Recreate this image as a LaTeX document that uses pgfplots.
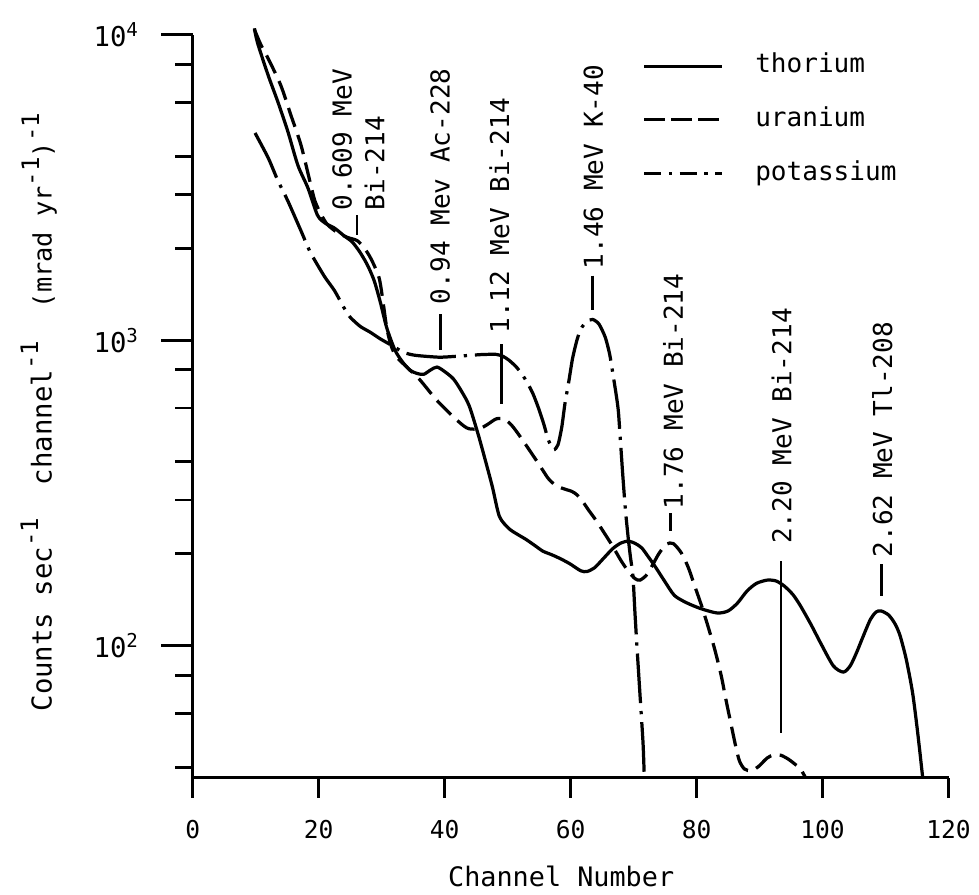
\documentclass[border=0pt]{standalone}
\usepackage{fontspec}
\setmainfont{DejaVu Sans Mono}
\usepackage{pgfplots}
\pgfplotsset{compat=1.18}
\newcommand{\annfont}{\fontsize{10.5}{13.2}\selectfont}
\newcommand{\sups}[1]{\raisebox{0.9ex}{\fontsize{9.7}{10}\selectfont #1}}
\begin{document}
\begin{tikzpicture}
\path (-77.6pt,-45.6pt) rectangle (314pt,313.2pt);
\begin{axis}[
  at={(0pt,0pt)}, anchor=south west,
  scale only axis, width=304.4pt, height=299.2pt,
  xmin=0, xmax=120, ymode=log, ymin=37, ymax=10000,
  axis x line=bottom, axis y line=left,
  axis line style={-, line width=1.2pt},
  clip=false,
  xtick={0,20,...,120},
  ytick={100,1000,10000},
  yticklabels={10\textsuperscript{2},10\textsuperscript{3},10\textsuperscript{4}},
  minor ytick={40,60,80,200,300,400,600,800,2000,3000,4000,6000,8000},
  tick align=outside,
  tick style={black, line width=1.1pt},
  major tick length=8pt,
  minor tick length=7pt,
  /pgf/number format/assume math mode=true,
  xticklabel style={font=\fontsize{9.9}{12}\selectfont, yshift=-5.7pt},
  yticklabel style={font=\fontsize{11}{12}\selectfont, anchor=east, xshift=-10pt},
  xlabel={Channel Number},
  xlabel style={font=\fontsize{10.8}{12}\selectfont, at={(axis description cs:0.4875,0)}, anchor=center, yshift=-39.6pt},
  ylabel={Counts sec\sups{-1}\ \ channel\sups{-1}\ \ {\fontsize{10.2}{11}\selectfont(mrad yr\sups{-1})\sups{-1}}},
  ylabel style={font=\fontsize{11}{12}\selectfont, at={([xshift=-62pt]axis description cs:0,0.492)}, anchor=center},
  legend style={draw=none, fill=none, inner sep=0pt, outer sep=0pt,
    at={(axis description cs:0.595,0.982)}, anchor=north west,
    font=\fontsize{10.5}{12}\selectfont, row sep=7.1pt,
    nodes={text height=8pt, text depth=2.5pt, inner sep=2pt}},
  legend cell align=left,
  legend image code/.code={\draw[#1, line width=1.3pt] (0pt,0pt) -- (31.2pt,0pt);
    \path[draw=none] (0pt,0pt) -- (42.8pt,0pt);},
]
\addlegendimage{black, solid}
\addlegendentry{thorium}
\addlegendimage{black, dash pattern=on 8.5pt off 2.4pt}
\addlegendentry{uranium}
\addlegendimage{black, dash pattern=on 7pt off 3pt on 1.3pt off 3pt}
\addlegendentry{potassium}

% thorium
\addplot[forget plot, black, line width=1.3pt, smooth, tension=0.45] coordinates {
(9.8,10500) (10.3,9400) (12.0,7350) (13.5,6050) (15.1,4830) (16.7,3740) (18.3,3150) (19.8,2570)
(21,2420) (22.5,2330) (24,2200) (25.3,2100) (26.5,1950) (27.7,1770) (28.8,1570) (29.8,1330)
(30.8,1100) (32.1,930) (33.3,850) (34.5,798) (35.7,778) (36.7,774) (37.8,800) (38.8,817)
(40.0,790) (41.4,747) (42.7,680) (43.9,610) (45.3,494) (46.6,395) (47.6,330) (48.7,265)
(50.2,242) (51.5,232) (52.9,223) (54.3,213) (55.6,204) (56.9,199) (58.1,194) (59.8,186)
(61.6,176) (62.6,175) (63.8,180) (65.2,193) (66.7,208) (68.0,217) (69.2,220) (70.3,216)
(71.3,209) (72.3,196) (73.4,182) (74.9,163) (76.5,146) (78.5,138) (80.8,132) (83.3,128)
(85.0,130) (86.5,138) (88.0,151) (89.5,160) (91.2,164) (92.6,163) (93.9,157) (95.3,147)
(96.5,135) (98.2,117) (99.7,102) (101.7,86) (103.3,82) (104.4,86) (105.4,95) (106.5,108)
(107.6,122) (108.5,129) (109.3,130) (110.5,126) (111.5,118) (112.3,108) (113.3,90) (114.3,70)
(115.1,52) (115.9,37)
};
% uranium
\addplot[forget plot, black, line width=1.3pt, smooth, tension=0.45, dash pattern=on 8pt off 3.5pt] coordinates {
(9.8,10400) (10.8,9300) (12.0,8350) (14.0,6820) (15.6,5450) (17.2,4350) (18.6,3320) (19.4,2860)
(20.4,2580) (21.4,2390) (23,2250) (24.6,2170) (26.1,2120) (27.2,2010) (28.3,1850) (29.6,1600)
(30.3,1300) (30.8,1100) (31.5,960) (32.4,880) (34.2,810) (36.1,741) (38.7,638) (41.4,561)
(43.0,525) (43.9,513) (45.5,513) (46.8,530) (48.2,553) (49.5,552) (50.7,525) (51.8,490)
(53.2,445) (54.5,406) (55.6,375) (56.5,352) (57.7,334) (59.0,326) (60.2,320) (61.0,312)
(62.0,295) (62.8,279) (64.0,258) (65.0,240) (66.6,213) (68.0,190) (69.1,176) (70.2,166)
(71.0,164) (72.0,170) (72.9,182) (74.0,200) (75.2,215) (76.3,216) (77.6,201) (78.7,180)
(79.7,157) (80.8,135) (81.8,116) (82.9,97) (83.9,80) (84.7,66) (85.5,55) (86.2,47)
(86.8,42) (87.6,39.5) (88.7,39) (89.8,40.2) (91.2,42.9) (92.3,44) (93.4,43.8) (94.6,42.5)
(95.6,41) (96.5,39.5) (97.3,37)
};
% potassium
\addplot[forget plot, black, line width=1.3pt, smooth, tension=0.4, dash pattern=on 20pt off 3.2pt on 1.3pt off 3.2pt] coordinates {
(9.9,4770) (12.0,3950) (13.5,3340) (15.1,2860) (17.2,2280) (18.7,1937) (20.9,1620) (22.5,1455)
(24.0,1280) (25.0,1190) (26.6,1110) (28.2,1062) (29.8,1010) (31.3,970) (33.5,913) (35.0,895)
(36.7,887) (39.2,880) (41.5,885) (43.9,892) (46.0,898) (48.2,899) (49.3,885) (50.2,861)
(51.2,825) (51.8,798) (52.9,740) (54.0,670) (54.9,600) (55.7,535) (56.5,470) (57.3,438)
(58.0,455) (58.6,520) (59.1,620) (59.7,730) (60.3,870) (61.0,1000) (61.6,1086) (62.5,1150)
(63.5,1170) (64.5,1130) (65.5,1023) (66.2,900) (66.8,757) (67.3,650) (67.6,580) (68.0,440)
(68.3,358) (68.7,279) (69.1,230) (69.5,195) (69.9,169) (70.2,130) (70.5,102) (71.0,70)
(71.5,48) (71.7,37)
};

% longer major y ticks
\draw[line width=1.1pt] (axis cs:0,100) -- ++(-12.8pt,0pt);
\draw[line width=1.1pt] (axis cs:0,1000) -- ++(-12.8pt,0pt);
\draw[line width=1.1pt] (axis cs:0,10000) -- ++(-12.8pt,0pt);

% annotations
\node[rotate=90, anchor=west, font=\annfont, align=left, inner sep=0pt] at (axis cs:26.3,2652) {0.609 MeV\\Bi-214};
\draw[line width=1.1pt] (axis cs:26.1,2570) -- (axis cs:26.1,2213);
\node[rotate=90, anchor=west, font=\annfont, inner sep=0pt] at (axis cs:39.3,1309) {0.94 Mev Ac-228};
\draw[line width=1.1pt] (axis cs:39.4,1216) -- (axis cs:39.4,927);
\node[rotate=90, anchor=west, font=\annfont, inner sep=0pt] at (axis cs:48.7,1047) {1.12 MeV Bi-214};
\draw[line width=1.1pt] (axis cs:49.05,970) -- (axis cs:49.05,619);
\node[rotate=90, anchor=west, font=\annfont, inner sep=0pt] at (axis cs:63.6,1702) {1.46 MeV K-40};
\draw[line width=1.1pt] (axis cs:63.5,1629) -- (axis cs:63.5,1259);
\node[rotate=90, anchor=west, font=\annfont, inner sep=0pt] at (axis cs:76.3,279) {1.76 MeV Bi-214};
\draw[line width=1.1pt] (axis cs:75.9,271) -- (axis cs:75.9,237);
\node[rotate=90, anchor=west, font=\annfont, inner sep=0pt] at (axis cs:93.5,215) {2.20 MeV Bi-214};
\draw[line width=1.1pt] (axis cs:93.4,189) -- (axis cs:93.4,52);
\node[rotate=90, anchor=west, font=\annfont, inner sep=0pt] at (axis cs:109.5,194) {2.62 MeV Tl-208};
\draw[line width=1.1pt] (axis cs:109.3,185) -- (axis cs:109.3,146);
\end{axis}
\end{tikzpicture}
\end{document}
